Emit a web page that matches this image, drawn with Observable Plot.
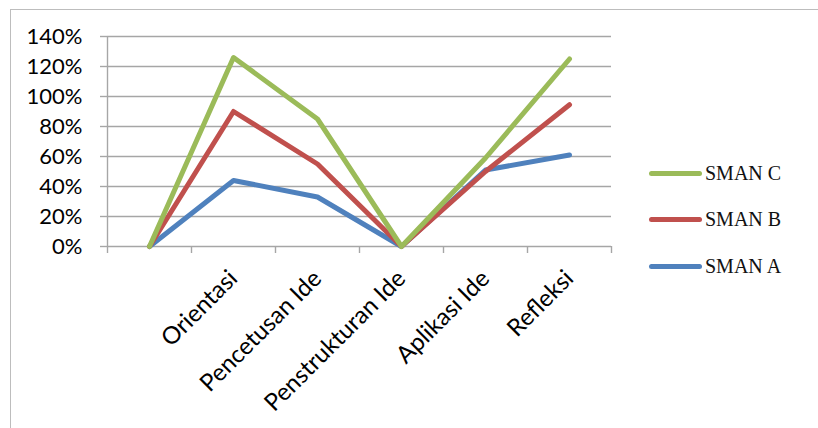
<!DOCTYPE html>
<html>
<head>
<meta charset="utf-8">
<script src="https://cdn.jsdelivr.net/npm/d3@7"></script>
<script src="https://cdn.jsdelivr.net/npm/@observablehq/plot@0.6"></script>
<style>
  html, body { margin: 0; padding: 0; background: #fff; }
  #wrap { position: relative; width: 818px; height: 428px; overflow: hidden; }
  #frame { position: absolute; left: 10px; top: 9px; width: 820px; height: 430px;
           border-left: 1.5px solid #bdbdbd; border-top: 1.5px solid #bdbdbd; }
  #chart { position: absolute; left: 0; top: 0; }
  #legend { position: absolute; left: 649px; top: 0; font-family: "Liberation Serif", "Times New Roman", serif; font-size: 20px; color: #111; }
  .item { position: absolute; left: 0; display: flex; align-items: center; white-space: nowrap; height: 24px; }
  .swatch { width: 53px; height: 5px; border-radius: 3px; margin-right: 3px; }
</style>
</head>
<body>
<div id="wrap">
  <div id="frame"></div>
  <div id="chart"></div>
  <div id="legend"></div>
</div>
<script>
const categories = ["", "Orientasi", "Pencetusan Ide", "Penstrukturan Ide", "Aplikasi Ide", "Refleksi"];
const smanA = [0, 0.44, 0.33, 0, 0.51, 0.61];
const smanB = [0, 0.90, 0.55, 0, 0.50, 0.945];
const smanC = [0, 1.26, 0.85, 0, 0.59, 1.25];
const seriesNames = ["SMAN A", "SMAN B", "SMAN C"];
const seriesColors = ["#4F81BD", "#C0504D", "#9BBB59"];
const legendOrder = ["SMAN C", "SMAN B", "SMAN A"];
const yTicks = [0, 0.2, 0.4, 0.6, 0.8, 1.0, 1.2, 1.4];

const seriesValues = [smanA, smanB, smanC];
const rows = [];
seriesNames.forEach((s, si) => {
  categories.forEach((c, ci) => rows.push({series: s, category: c, value: seriesValues[si][ci]}));
});

const W = 818, H = 428;
const mL = 107, mR = 207, mT = 36, mB = 182;
const bw = (W - mL - mR) / categories.length;
const gridColor = "#a6a6a6";

const chart = Plot.plot({
  width: W,
  height: H,
  marginLeft: mL,
  marginRight: mR,
  marginTop: mT,
  marginBottom: mB,
  style: {fontFamily: "Lato, 'Open Sans', sans-serif", color: "#000", background: "transparent"},
  x: {type: "band", domain: categories, padding: 0},
  y: {domain: [0, 1.4]},
  color: {domain: seriesNames, range: seriesColors},
  marks: [
    Plot.gridY({ticks: yTicks, stroke: gridColor, strokeOpacity: 1, strokeWidth: 1.4}),
    Plot.ruleX([categories[0]], {dx: -bw / 2, stroke: gridColor, strokeWidth: 1.4}),
    Plot.axisY({ticks: yTicks, tickFormat: d3.format(".0%"), tickSize: 7, tickPadding: 18, fontSize: 22, stroke: gridColor, strokeWidth: 1.4, strokeOpacity: 1, label: null}),
    Plot.axisX({ticks: categories, tickSize: 7, tickFormat: () => "", dx: -bw / 2, stroke: gridColor, strokeWidth: 1.4, strokeOpacity: 1, label: null}),
    Plot.axisX({ticks: [categories[categories.length - 1]], tickSize: 7, tickFormat: () => "", dx: bw / 2, stroke: gridColor, strokeWidth: 1.4, strokeOpacity: 1, label: null}),
    Plot.axisX({ticks: categories.slice(1), tickSize: 0, tickRotate: -45, tickPadding: 28, fontSize: 24, label: null}),
    Plot.line(rows, {x: "category", y: "value", z: "series", stroke: "series", strokeWidth: 5, strokeLinejoin: "round", strokeLinecap: "round"})
  ]
});
document.getElementById("chart").appendChild(chart);

const legendY = [173, 219, 266];
const legend = document.getElementById("legend");
legendOrder.forEach((name, i) => {
  const item = document.createElement("div");
  item.className = "item";
  item.style.top = (legendY[i] - 12) + "px";
  const sw = document.createElement("div");
  sw.className = "swatch";
  sw.style.background = seriesColors[seriesNames.indexOf(name)];
  const tx = document.createElement("span");
  tx.textContent = name;
  item.appendChild(sw);
  item.appendChild(tx);
  legend.appendChild(item);
});
</script>
</body>
</html>
